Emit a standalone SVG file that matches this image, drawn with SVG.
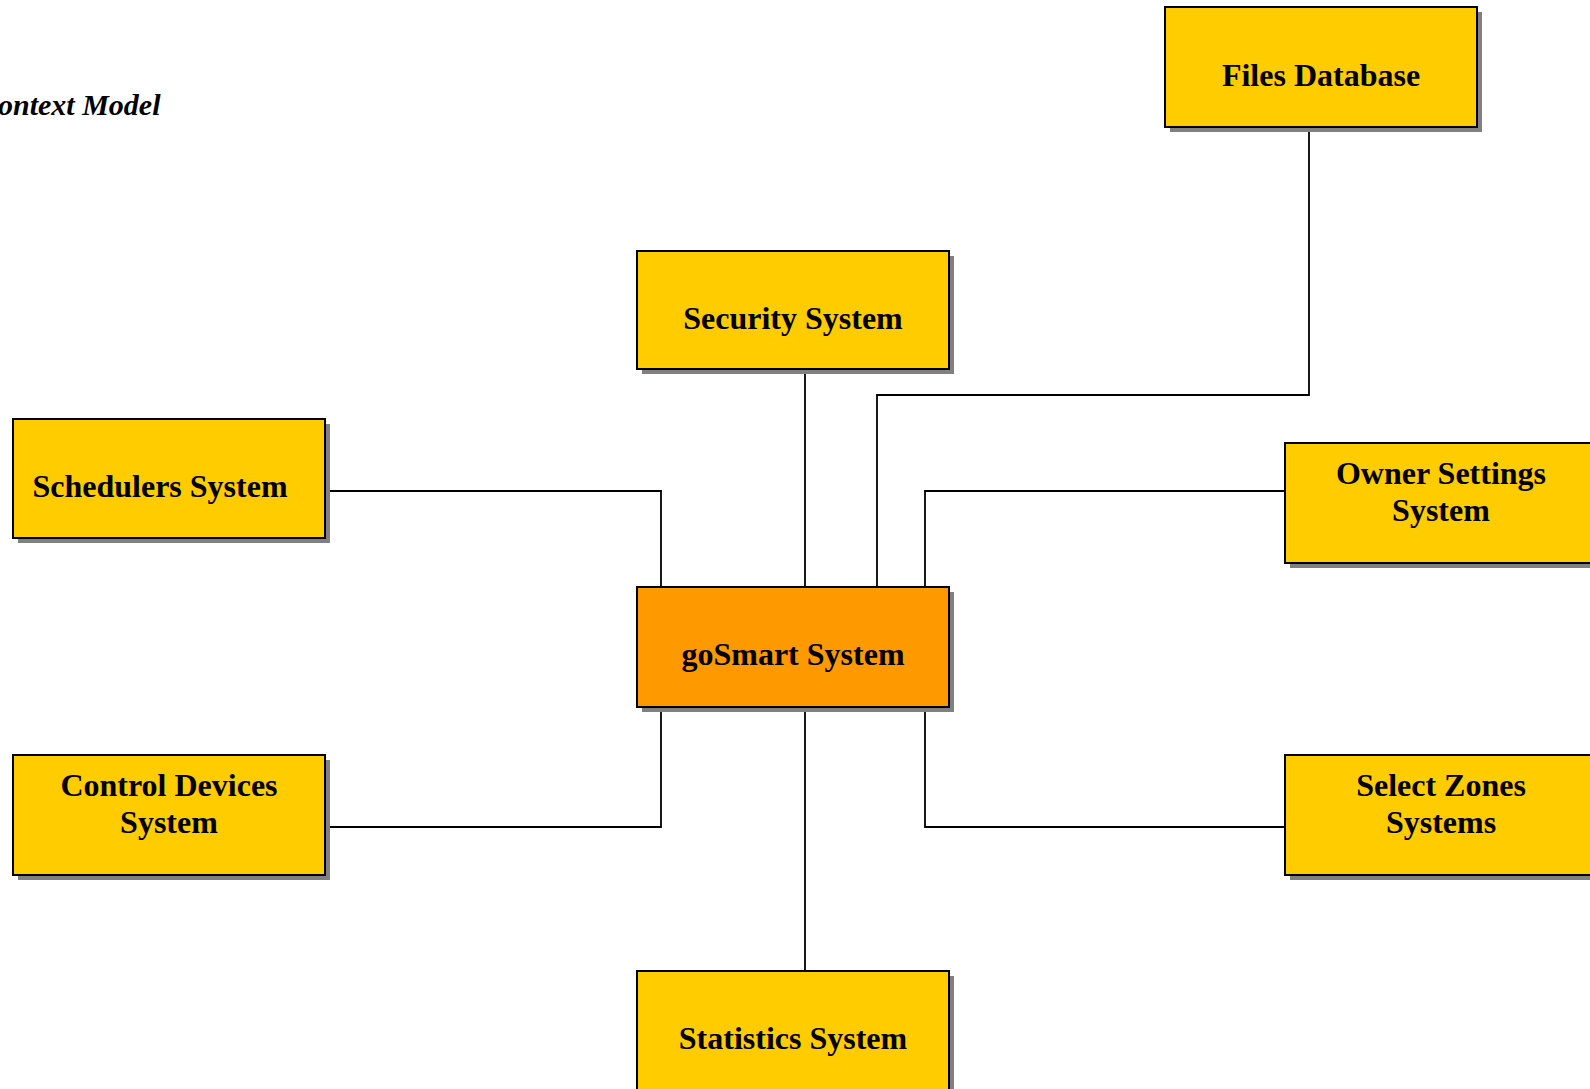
<svg xmlns="http://www.w3.org/2000/svg" width="1590" height="1089" viewBox="0 0 1590 1089">
<style>
.shadow{fill:#808080;stroke:none}
.box{fill:#FFCC00;stroke:#000;stroke-width:2}
.core{fill:#FF9900;stroke:#000;stroke-width:2}
.lbl{font-family:"Liberation Serif","Times New Roman",serif;font-weight:bold;font-size:32px;fill:#000;text-anchor:middle}
.conn{fill:none;stroke:#000;stroke-width:1.8}
.sub{font-family:"Liberation Serif","Times New Roman",serif;font-weight:bold;font-style:italic;font-size:30px;fill:#000}
</style>
<rect width="1590" height="1089" fill="#fff"/>
<text class="sub" x="-2" y="115">ontext Model</text>
<g id="connectors">
<line class="conn" x1="805" y1="369" x2="805" y2="587"/>
<line class="conn" x1="805" y1="707" x2="805" y2="971"/>
<polyline class="conn" points="1309,127 1309,395 877,395 877,587"/>
<polyline class="conn" points="325,491 661,491 661,587"/>
<polyline class="conn" points="1285,491 925,491 925,587"/>
<polyline class="conn" points="661,707 661,827 325,827"/>
<polyline class="conn" points="925,707 925,827 1285,827"/>
</g>
<g id="files-database">
<rect class="shadow" x="1170" y="12" width="312" height="120"/>
<rect class="box" x="1165" y="7" width="312" height="120"/>
<text class="lbl" x="1321" y="86">Files Database</text>
</g>
<g id="security-system">
<rect class="shadow" x="642" y="256" width="312" height="118"/>
<rect class="box" x="637" y="251" width="312" height="118"/>
<text class="lbl" x="793" y="329">Security System</text>
</g>
<g id="schedulers-system">
<rect class="shadow" x="18" y="424" width="312" height="119"/>
<rect class="box" x="13" y="419" width="312" height="119"/>
<text class="lbl" x="160" y="497">Schedulers System</text>
</g>
<g id="owner-settings-system">
<rect class="shadow" x="1290" y="448" width="312" height="120"/>
<rect class="box" x="1285" y="443" width="312" height="120"/>
<text class="lbl" x="1441" y="484">Owner Settings</text>
<text class="lbl" x="1441" y="521">System</text>
</g>
<g id="gosmart-system">
<rect class="shadow" x="642" y="592" width="312" height="120"/>
<rect class="core" x="637" y="587" width="312" height="120"/>
<text class="lbl" x="793" y="665">goSmart System</text>
</g>
<g id="control-devices-system">
<rect class="shadow" x="18" y="760" width="312" height="120"/>
<rect class="box" x="13" y="755" width="312" height="120"/>
<text class="lbl" x="169" y="796">Control Devices</text>
<text class="lbl" x="169" y="833">System</text>
</g>
<g id="select-zones-systems">
<rect class="shadow" x="1290" y="760" width="312" height="120"/>
<rect class="box" x="1285" y="755" width="312" height="120"/>
<text class="lbl" x="1441" y="796">Select Zones</text>
<text class="lbl" x="1441" y="833">Systems</text>
</g>
<g id="statistics-system">
<rect class="shadow" x="642" y="976" width="312" height="120"/>
<rect class="box" x="637" y="971" width="312" height="120"/>
<text class="lbl" x="793" y="1049">Statistics System</text>
</g>
</svg>
